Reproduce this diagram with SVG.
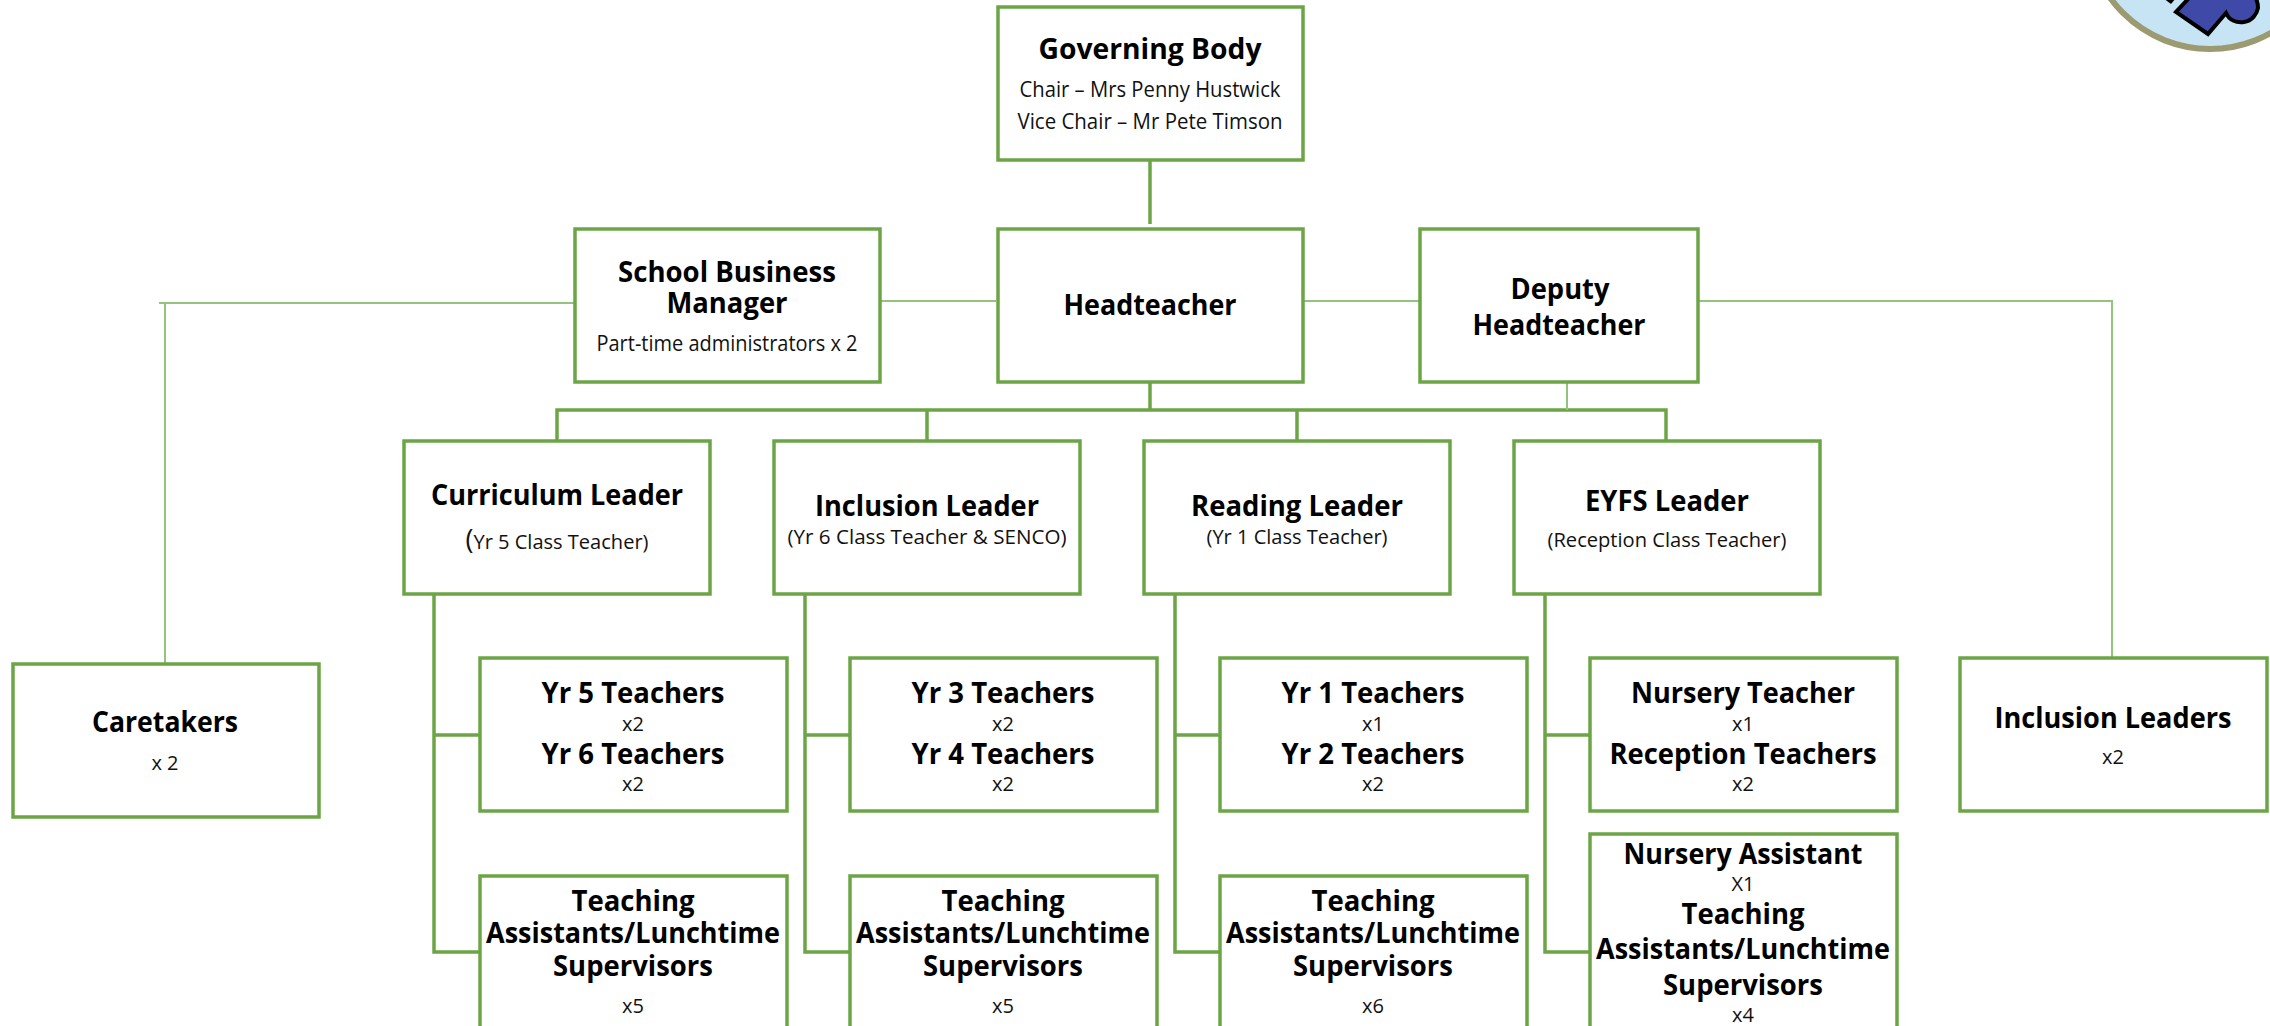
<svg xmlns="http://www.w3.org/2000/svg" width="2270" height="1026" viewBox="0 0 2270 1026">
<style>
text{font-family:"Open Sans","Noto Sans","Liberation Sans",sans-serif;fill:#111;text-anchor:middle}
.t{font-size:29px;font-weight:700;fill:#000}
.s{font-size:21px}
.n{font-size:20px}
.box{fill:#fff;stroke:#6ca546;stroke-width:3.5}
.c{fill:none;stroke:#6ca546;stroke-width:3.5}
.l{fill:none;stroke:#93c47d;stroke-width:2}
</style>
<rect width="2270" height="1026" fill="#fff"/>
<g id="logo">
<circle cx="2210" cy="-74" r="123" fill="#c6e4f3" stroke="#9c9a70" stroke-width="6"/>
<path d="M2190-3L2176 12L2208 34L2226 13C2229 20 2236 23 2244 22C2252 21 2257 14 2258 8C2258 4 2257 0 2255-3Z" fill="#3f49a8" stroke="#000" stroke-width="4"/>
<path d="M2163-2L2171 4L2176-2Z" fill="#000"/>
</g>
<g id="connectors">
<path class="c" d="M1150 160V224M1150 382V410M557 442V410H1666V442M927 410V442M1297 410V442"/>
<path class="c" d="M434 595V952H480M434 735H480M805 595V952H850M805 735H850M1175 595V952H1220M1175 735H1220M1545 595V952H1590M1545 735H1590"/>
<path class="l" d="M880 301H996M1303 301H1420M1698 301H2112V657M575 303H159M165 303V663M1567 380V410"/>
</g>
<g id="governing-body"><rect class="box" x="998" y="7" width="305" height="153"/>
<text class="t" x="1150" y="59" textLength="223" lengthAdjust="spacingAndGlyphs">Governing Body</text>
<text class="s" x="1150" y="97" textLength="261" lengthAdjust="spacingAndGlyphs">Chair – Mrs Penny Hustwick</text>
<text class="s" x="1150" y="129" textLength="265" lengthAdjust="spacingAndGlyphs">Vice Chair – Mr Pete Timson</text></g>
<g id="headteacher"><rect class="box" x="998" y="229" width="305" height="153"/>
<text class="t" x="1150" y="315" textLength="173" lengthAdjust="spacingAndGlyphs">Headteacher</text></g>
<g id="business-manager"><rect class="box" x="575" y="229" width="305" height="153"/>
<text class="t" x="727" y="282" textLength="218" lengthAdjust="spacingAndGlyphs">School Business</text>
<text class="t" x="727" y="313" textLength="121" lengthAdjust="spacingAndGlyphs">Manager</text>
<text class="s" x="727" y="351" textLength="261" lengthAdjust="spacingAndGlyphs">Part-time administrators x 2</text></g>
<g id="deputy"><rect class="box" x="1420" y="229" width="278" height="153"/>
<text class="t" x="1560" y="299" textLength="99" lengthAdjust="spacingAndGlyphs">Deputy</text>
<text class="t" x="1559" y="335" textLength="173" lengthAdjust="spacingAndGlyphs">Headteacher</text></g>
<g id="curriculum-leader"><rect class="box" x="404" y="441" width="306" height="153"/>
<text class="t" x="557" y="505" textLength="252" lengthAdjust="spacingAndGlyphs">Curriculum Leader</text>
<text class="n" x="557" y="549" textLength="183" lengthAdjust="spacingAndGlyphs"><tspan font-size="27">(</tspan>Yr 5 Class Teacher)</text></g>
<g id="inclusion-leader"><rect class="box" x="774" y="441" width="306" height="153"/>
<text class="t" x="927" y="516" textLength="224" lengthAdjust="spacingAndGlyphs">Inclusion Leader</text>
<text class="n" x="927" y="544" textLength="279" lengthAdjust="spacingAndGlyphs">(Yr 6 Class Teacher &amp; SENCO)</text></g>
<g id="reading-leader"><rect class="box" x="1144" y="441" width="306" height="153"/>
<text class="t" x="1297" y="516" textLength="212" lengthAdjust="spacingAndGlyphs">Reading Leader</text>
<text class="n" x="1297" y="544" textLength="181" lengthAdjust="spacingAndGlyphs">(Yr 1 Class Teacher)</text></g>
<g id="eyfs-leader"><rect class="box" x="1514" y="441" width="306" height="153"/>
<text class="t" x="1667" y="511" textLength="164" lengthAdjust="spacingAndGlyphs">EYFS Leader</text>
<text class="n" x="1667" y="547" textLength="239" lengthAdjust="spacingAndGlyphs">(Reception Class Teacher)</text></g>
<g id="yr56"><rect class="box" x="480" y="658" width="307" height="153"/>
<text class="t" x="633" y="703" textLength="183" lengthAdjust="spacingAndGlyphs">Yr 5 Teachers</text><text class="n" x="633" y="731">x2</text>
<text class="t" x="633" y="764" textLength="183" lengthAdjust="spacingAndGlyphs">Yr 6 Teachers</text><text class="n" x="633" y="791">x2</text></g>
<g id="yr34"><rect class="box" x="850" y="658" width="307" height="153"/>
<text class="t" x="1003" y="703" textLength="183" lengthAdjust="spacingAndGlyphs">Yr 3 Teachers</text><text class="n" x="1003" y="731">x2</text>
<text class="t" x="1003" y="764" textLength="183" lengthAdjust="spacingAndGlyphs">Yr 4 Teachers</text><text class="n" x="1003" y="791">x2</text></g>
<g id="yr12"><rect class="box" x="1220" y="658" width="307" height="153"/>
<text class="t" x="1373" y="703" textLength="183" lengthAdjust="spacingAndGlyphs">Yr 1 Teachers</text><text class="n" x="1373" y="731">x1</text>
<text class="t" x="1373" y="764" textLength="183" lengthAdjust="spacingAndGlyphs">Yr 2 Teachers</text><text class="n" x="1373" y="791">x2</text></g>
<g id="nursery-reception"><rect class="box" x="1590" y="658" width="307" height="153"/>
<text class="t" x="1743" y="703" textLength="224" lengthAdjust="spacingAndGlyphs">Nursery Teacher</text><text class="n" x="1743" y="731">x1</text>
<text class="t" x="1743" y="764" textLength="267" lengthAdjust="spacingAndGlyphs">Reception Teachers</text><text class="n" x="1743" y="791">x2</text></g>
<g id="ta1"><rect class="box" x="480" y="876" width="307" height="160"/>
<text class="t" x="633" y="911" textLength="123" lengthAdjust="spacingAndGlyphs">Teaching</text>
<text class="t" x="633" y="943" textLength="294" lengthAdjust="spacingAndGlyphs">Assistants/Lunchtime</text>
<text class="t" x="633" y="976" textLength="160" lengthAdjust="spacingAndGlyphs">Supervisors</text>
<text class="n" x="633" y="1013">x5</text></g>
<g id="ta2"><rect class="box" x="850" y="876" width="307" height="160"/>
<text class="t" x="1003" y="911" textLength="123" lengthAdjust="spacingAndGlyphs">Teaching</text>
<text class="t" x="1003" y="943" textLength="294" lengthAdjust="spacingAndGlyphs">Assistants/Lunchtime</text>
<text class="t" x="1003" y="976" textLength="160" lengthAdjust="spacingAndGlyphs">Supervisors</text>
<text class="n" x="1003" y="1013">x5</text></g>
<g id="ta3"><rect class="box" x="1220" y="876" width="307" height="160"/>
<text class="t" x="1373" y="911" textLength="123" lengthAdjust="spacingAndGlyphs">Teaching</text>
<text class="t" x="1373" y="943" textLength="294" lengthAdjust="spacingAndGlyphs">Assistants/Lunchtime</text>
<text class="t" x="1373" y="976" textLength="160" lengthAdjust="spacingAndGlyphs">Supervisors</text>
<text class="n" x="1373" y="1013">x6</text></g>
<g id="nursery-assistant"><rect class="box" x="1590" y="834" width="307" height="200"/>
<text class="t" x="1743" y="864" textLength="239" lengthAdjust="spacingAndGlyphs">Nursery Assistant</text><text class="n" x="1743" y="891">X1</text>
<text class="t" x="1743" y="924" textLength="123" lengthAdjust="spacingAndGlyphs">Teaching</text>
<text class="t" x="1743" y="959" textLength="294" lengthAdjust="spacingAndGlyphs">Assistants/Lunchtime</text>
<text class="t" x="1743" y="995" textLength="160" lengthAdjust="spacingAndGlyphs">Supervisors</text>
<text class="n" x="1743" y="1022">x4</text></g>
<g id="caretakers"><rect class="box" x="13" y="664" width="306" height="153"/>
<text class="t" x="165" y="732" textLength="146" lengthAdjust="spacingAndGlyphs">Caretakers</text>
<text class="n" x="165" y="770">x 2</text></g>
<g id="inclusion-leaders"><rect class="box" x="1960" y="658" width="307" height="153"/>
<text class="t" x="2113" y="728" textLength="237" lengthAdjust="spacingAndGlyphs">Inclusion Leaders</text>
<text class="n" x="2113" y="764">x2</text></g>
</svg>
